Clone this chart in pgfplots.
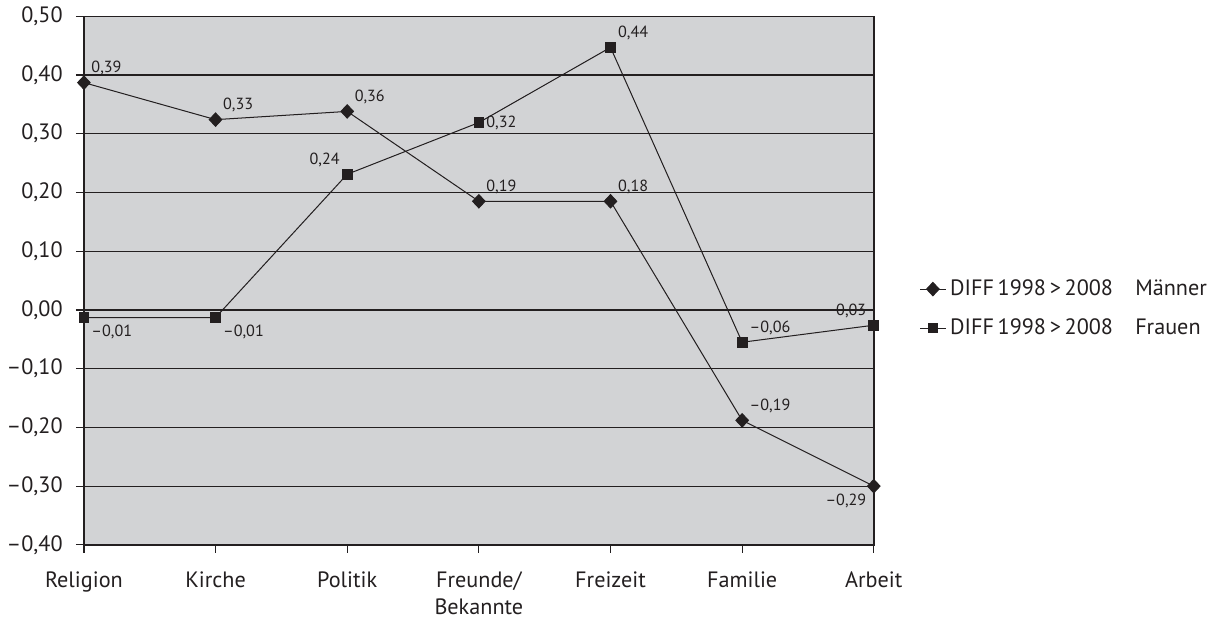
\documentclass[border=0pt]{standalone}
\usepackage{fontspec}
\setmainfont{PT Sans}
\usepackage{pgfplots}
\pgfplotsset{compat=1.18}
\definecolor{plotbg}{HTML}{D2D3D5}
\definecolor{ink}{HTML}{231F20}
\begin{document}
\begin{tikzpicture}
\begin{axis}[
    scale only axis,
    width=391.5pt, height=262pt,
    xmin=0, xmax=6, ymin=-0.4, ymax=0.5,
    axis background/.style={fill=plotbg},
    axis line style={ink, line width=0.7pt},
    xtick={0,1,2,3,4,5,6},
    xticklabels={Religion, Kirche, Politik, {Freunde/\\Bekannte}, Freizeit, Familie, Arbeit},
    xticklabel style={align=center, yshift=-6pt, font=\fontsize{11}{13}\selectfont, text=ink},
    ytick={-0.4,-0.3,-0.2,-0.1,0,0.1,0.2,0.3,0.4,0.5},
    yticklabels={{–0,40},{–0,30},{–0,20},{–0,10},{0,00},{0,10},{0,20},{0,30},{0,40},{0,50}},
    yticklabel style={font=\fontsize{11}{13}\selectfont, text=ink, xshift=-3pt},
    tick pos=left, tick align=outside,
    major tick length=4pt,
    tick style={ink, line width=0.6pt},
    ymajorgrids,
    grid style={ink, line width=0.6pt},
    legend style={at={(1.05,0.447)}, anchor=west, draw=none, fill=none,
        font=\fontsize{11}{13}\selectfont, text=ink, row sep=6pt},
    legend cell align={left},
    legend image code/.code={
        \draw[mark repeat=2, mark phase=2] plot coordinates {(0cm,0cm) (0.22cm,0cm) (0.44cm,0cm)};},
    nodes near coords,
    point meta=explicit symbolic,
    visualization depends on={value \thisrow{anc}\as\anc},
    every node near coord/.append style={font=\fontsize{8}{9}\selectfont, text=ink, anchor=\anc, inner sep=3.5pt},
]
\addplot[ink, line width=0.5pt, mark=diamond*, mark size=3.3pt,
    mark options={xscale=1.25, fill=ink}]
table [x=x, y=y, meta=lab] {
x y lab anc
0 0.387 0,39 {south west}
1 0.324 0,33 {south west}
2 0.338 0,36 {south west}
3 0.185 0,19 {south west}
4 0.185 0,18 {south west}
5 -0.188 –0,19 {south west}
6 -0.300 –0,29 {north east}
};
\addlegendentry{DIFF\,1998\,>\,2008\quad Männer}

\addplot[ink, line width=0.5pt, mark=square*, mark size=2.4pt,
    mark options={fill=ink}]
table [x=x, y=y, meta=lab] {
x y lab anc
0 -0.013 –0,01 {north west}
1 -0.013 –0,01 {north west}
2 0.231 0,24 {south east}
3 0.319 0,32 {west}
4 0.447 0,44 {south west}
5 -0.055 –0,06 {south west}
6 -0.026 –0,03 {south east}
};
\addlegendentry{DIFF\,1998\,>\,2008\quad Frauen}
\end{axis}
\end{tikzpicture}
\end{document}
